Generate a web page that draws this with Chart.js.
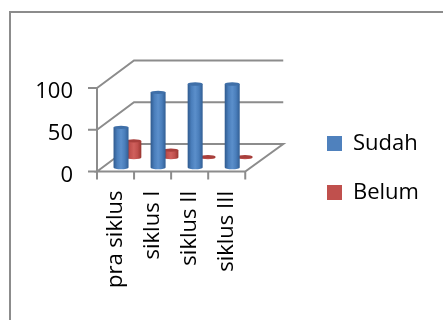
<!DOCTYPE html>
<html>
<head>
<meta charset="utf-8">
<style>
  html, body { margin: 0; padding: 0; background: #fff; }
  #wrap { position: relative; width: 443px; height: 320px; }
</style>
<script src="https://cdn.jsdelivr.net/npm/chart.js@4/dist/chart.umd.min.js"></script>
</head>
<body>
<div id="wrap"><canvas id="chart" width="443" height="320"></canvas></div>
<script>
const categories = ['pra siklus', 'siklus I', 'siklus II', 'siklus III'];
const sudah = [48, 90, 100, 100];
const belum = [20, 9, 1, 1];
const yTicks = [0, 50, 100];

const LABEL_FONT = { family: 'Open Sans', size: 22 };
const GREY = '#8c8c8c';
// how far the back wall sits behind the front plane
const DEPTH_X = 37;
const DEPTH_Y = -27.5;

// frame, back walls and floor, all hung off the value scale
const walls = {
  id: 'walls',
  beforeDraw(chart) {
    const { ctx, chartArea: a, scales: { y } } = chart;
    ctx.save();
    ctx.strokeStyle = GREY;
    ctx.lineWidth = 2;
    ctx.beginPath();
    ctx.moveTo(10, 320);
    ctx.lineTo(10, 12);
    ctx.lineTo(443, 12);
    ctx.stroke();

    yTicks.forEach(v => {
      const py = y.getPixelForValue(v);
      ctx.beginPath();
      ctx.moveTo(a.left, py);
      ctx.lineTo(a.left + DEPTH_X, py + DEPTH_Y);
      ctx.lineTo(a.right + DEPTH_X + 1, py + DEPTH_Y);
      if (v === 0) {
        ctx.lineTo(a.right, py);
        ctx.closePath();
      }
      ctx.stroke();
    });

    // left edge and the tick marks
    ctx.beginPath();
    ctx.moveTo(a.left, y.getPixelForValue(100));
    ctx.lineTo(a.left, a.bottom);
    yTicks.forEach(v => {
      const py = y.getPixelForValue(v);
      ctx.moveTo(a.left - 9, py);
      ctx.lineTo(a.left, py);
    });
    for (let i = 0; i <= categories.length; i++) {
      const px = a.left + (a.right - a.left) * i / categories.length;
      ctx.moveTo(px, a.bottom);
      ctx.lineTo(px, a.bottom + 8);
    }
    ctx.stroke();
    ctx.restore();
  }
};

function shade(ctx, left, right, stops) {
  const g = ctx.createLinearGradient(left, 0, right, 0);
  stops.forEach((c, i) => g.addColorStop(i / (stops.length - 1), c));
  return g;
}

// draws each bar element as a cylinder, pushed back into the floor,
// and returns false so the flat bars are skipped
const cylinders = {
  id: 'cylinders',
  beforeDatasetsDraw(chart) {
    const { ctx } = chart;
    [1, 0].forEach(d => {
      const ds = chart.data.datasets[d];
      chart.getDatasetMeta(d).data.forEach(bar => {
        const p = bar.getProps(['x', 'y', 'base', 'width'], true);
        const cx = p.x + ds.shiftX;
        const top = p.y + ds.shiftY;
        const bottom = p.base + ds.shiftY;
        const r = p.width / 2;
        const ry = 1.7;
        const left = cx - r;
        const right = cx + r;
        ctx.save();
        ctx.fillStyle = shade(ctx, left, right, ds.sideStops);
        ctx.beginPath();
        ctx.moveTo(left, top);
        ctx.lineTo(left, bottom);
        ctx.ellipse(cx, bottom, r, ry, 0, Math.PI, 0, true);
        ctx.lineTo(right, top);
        ctx.closePath();
        ctx.fill();
        ctx.fillStyle = ds.capColor;
        ctx.beginPath();
        ctx.ellipse(cx, top, r, ry, 0, 0, Math.PI * 2);
        ctx.fill();
        ctx.restore();
      });
    });
    return false;
  }
};

// legend keeps its own drawing, only its box is moved here
const legendPlace = {
  id: 'legendPlace',
  afterLayout(chart) {
    const legend = chart.legend;
    legend.left = 300;
    legend.right = 443;
    legend.top = 105.5;
    legend.bottom = 320;
  }
};

new Chart(document.getElementById('chart'), {
  type: 'bar',
  plugins: [walls, cylinders, legendPlace],
  data: {
    labels: categories,
    datasets: [
      {
        label: 'Sudah',
        data: sudah,
        backgroundColor: '#4f81bd',
        capColor: '#3f6fa8',
        sideStops: ['#2f5a8e', '#4a7ebb', '#5b8fcb', '#4a7ebb', '#315e94'],
        shiftX: 5.5,
        shiftY: -4
      },
      {
        label: 'Belum',
        data: belum,
        backgroundColor: '#c0504d',
        capColor: '#a83f3c',
        sideStops: ['#96332f', '#c0504d', '#d0605c', '#c0504d', '#98352f'],
        shiftX: 18.3,
        shiftY: -13.9
      }
    ]
  },
  options: {
    responsive: false,
    animation: false,
    events: [],
    layout: { padding: { top: 88, right: 116, bottom: 0, left: 0 } },
    datasets: { bar: { barThickness: 15, grouped: false } },
    plugins: {
      tooltip: { enabled: false },
      title: { display: false },
      legend: {
        position: 'right',
        align: 'start',
        labels: {
          boxWidth: 15,
          boxHeight: 15,
          padding: 27,
          color: '#000',
          font: LABEL_FONT
        }
      }
    },
    scales: {
      x: {
        grid: { display: false },
        border: { display: false },
        afterFit(scale) { scale.height = 320 - 171.5; },
        ticks: {
          color: '#000',
          font: LABEL_FONT,
          minRotation: 90,
          maxRotation: 90,
          padding: 11
        }
      },
      y: {
        min: 0,
        max: 100,
        afterFit(scale) { scale.width = 97; },
        grid: { display: false },
        border: { display: false },
        ticks: {
          color: '#000',
          font: LABEL_FONT,
          padding: 16,
          labelOffset: 4,
          stepSize: 50
        }
      }
    }
  }
});
</script>
</body>
</html>
